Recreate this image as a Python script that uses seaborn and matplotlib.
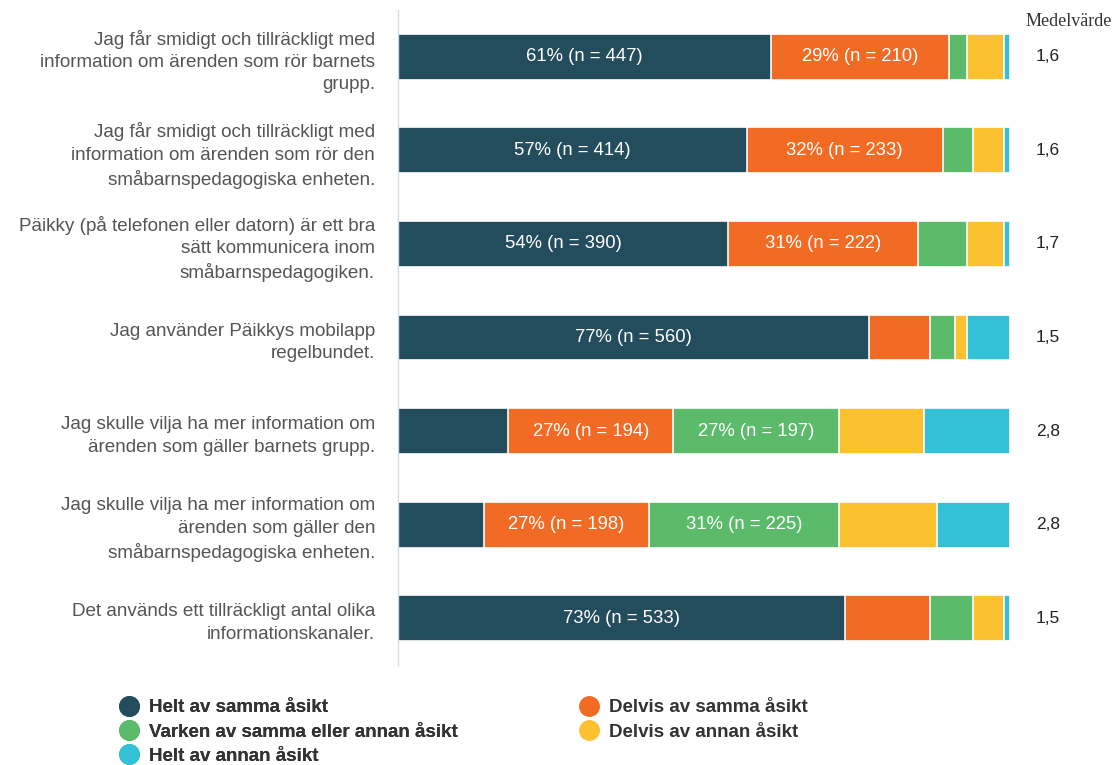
import matplotlib
matplotlib.use("Agg")
import matplotlib.pyplot as plt
import seaborn as sns
import numpy as np
import pandas as pd
from matplotlib.lines import Line2D

sns.set_style("white")
plt.rcParams['font.family'] = ['Liberation Sans', 'DejaVu Sans']

statements = [
    "Jag får smidigt och tillräckligt med\ninformation om ärenden som rör barnets\ngrupp.",
    "Jag får smidigt och tillräckligt med\ninformation om ärenden som rör den\nsmåbarnspedagogiska enheten.",
    "Päikky (på telefonen eller datorn) är ett bra\nsätt kommunicera inom\nsmåbarnspedagogiken.",
    "Jag använder Päikkys mobilapp\nregelbundet.",
    "Jag skulle vilja ha mer information om\närenden som gäller barnets grupp.",
    "Jag skulle vilja ha mer information om\närenden som gäller den\nsmåbarnspedagogiska enheten.",
    "Det används ett tillräckligt antal olika\ninformationskanaler.",
]
categories = ["Helt av samma åsikt", "Delvis av samma åsikt",
              "Varken av samma eller annan åsikt", "Delvis av annan åsikt",
              "Helt av annan åsikt"]
helt_samma   = [61, 57, 54, 77, 18, 14, 73]
delvis_samma = [29, 32, 31, 10, 27, 27, 14]
varken       = [3, 5, 8, 4, 27, 31, 7]
delvis_annan = [6, 5, 6, 2, 14, 16, 5]
helt_annan   = [1, 1, 1, 7, 14, 12, 1]
labels_helt_samma   = ["61% (n = 447)", "57% (n = 414)", "54% (n = 390)", "77% (n = 560)", "", "", "73% (n = 533)"]
labels_delvis_samma = ["29% (n = 210)", "32% (n = 233)", "31% (n = 222)", "", "27% (n = 194)", "27% (n = 198)", ""]
labels_varken       = ["", "", "", "", "27% (n = 197)", "31% (n = 225)", ""]
medelvarde = ["1,6", "1,6", "1,7", "1,5", "2,8", "2,8", "1,5"]

colors = ["#234D5C", "#F26B25", "#5BBB6A", "#FCC12E", "#33C1D6"]

series = [helt_samma, delvis_samma, varken, delvis_annan, helt_annan]
seg_labels = [labels_helt_samma, labels_delvis_samma, labels_varken, None, None]

data = np.array(series, dtype=float)
data = data / data.sum(axis=0) * 100
cum = np.cumsum(data, axis=0)

fig = plt.figure(figsize=(11.2, 7.65), dpi=100)
ax = fig.add_axes([398/1120, 1-665/765, (1010-398)/1120, 655/765])

for k in range(len(categories)-1, -1, -1):
    df = pd.DataFrame({"stmt": statements, "val": cum[k]})
    sns.barplot(data=df, x="val", y="stmt", orient="h", color=colors[k],
                saturation=1, width=0.49, edgecolor="white", linewidth=1.2, ax=ax)

for k in range(len(categories)):
    if seg_labels[k] is None:
        continue
    for i, lab in enumerate(seg_labels[k]):
        if lab:
            left = cum[k-1][i] if k > 0 else 0
            ax.text(left + data[k][i]/2, i, lab, ha="center", va="center",
                    color="white", fontsize=13.3)

ax.set_xlim(0, 100)
ax.set_ylim(6.5, -0.5)
ax.set_xlabel("")
ax.set_ylabel("")
ax.set_xticks([])
ax.tick_params(axis="y", length=0, pad=16.5, labelsize=13.6, labelcolor="#555555")
for t in ax.get_yticklabels():
    t.set_linespacing(1.42)
for s in ["top", "right", "bottom"]:
    ax.spines[s].set_visible(False)
ax.spines["left"].set_color("#D5DCE8")
ax.spines["left"].set_linewidth(1)

for i, m in enumerate(medelvarde):
    ax.text(1.062, i, m, transform=ax.get_yaxis_transform(), ha="center",
            va="center", fontsize=12.5, color="#222222")
fig.text(1026/1120, 1-21/765, "Medelvärde", ha="left", va="center",
         fontsize=13, family="Liberation Serif", color="#333333")

def mk(c):
    return Line2D([0], [0], marker="o", linestyle="", markersize=14,
                  markerfacecolor=c, markeredgecolor=c)

leg_kw = dict(loc="upper left", frameon=False,
              prop={"size": 13.5, "weight": "bold"}, labelcolor="#333333",
              handletextpad=0.55, labelspacing=0.39, handlelength=1.0,
              borderpad=0, borderaxespad=0)
col1 = [0, 2, 4]
col2 = [1, 3]
leg1 = fig.legend([mk(colors[j]) for j in col1], [categories[j] for j in col1],
                  bbox_to_anchor=(120/1120, 1-699/765), **leg_kw)
fig.add_artist(leg1)
leg2 = fig.legend([mk(colors[j]) for j in col2], [categories[j] for j in col2],
                  bbox_to_anchor=(580/1120, 1-699/765), **leg_kw)

fig.savefig("out.png", dpi=100)
